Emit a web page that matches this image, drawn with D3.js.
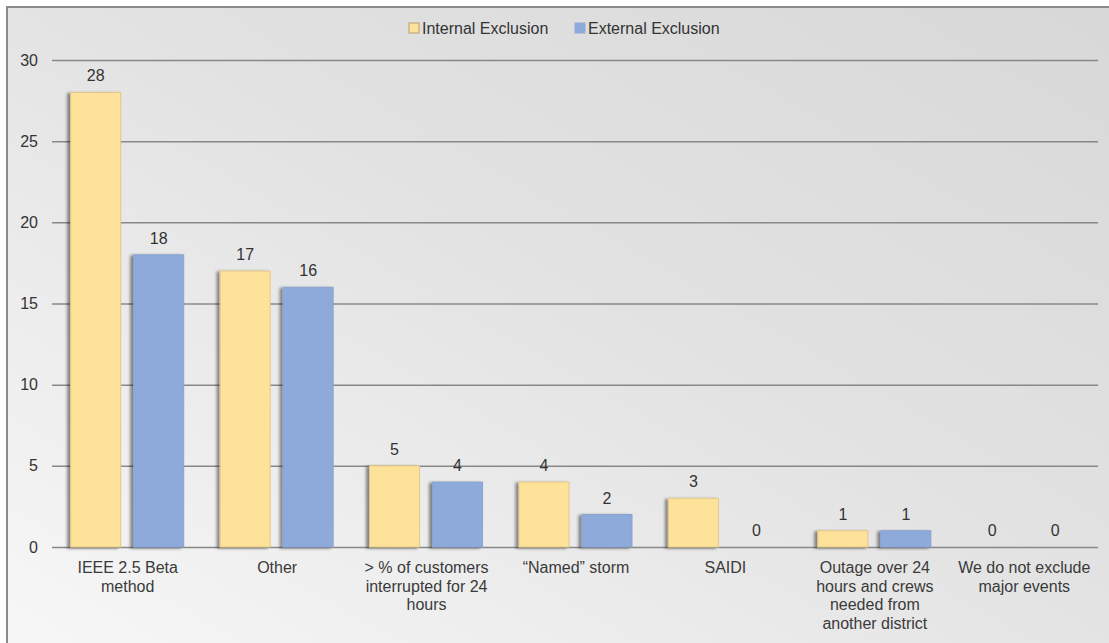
<!DOCTYPE html>
<html>
<head>
<meta charset="utf-8">
<script src="https://cdn.jsdelivr.net/npm/d3@7"></script>
<style>
  html, body { margin: 0; padding: 0; background: #ffffff; }
  svg { display: block; font-family: "Liberation Sans", Arial, sans-serif; }
</style>
</head>
<body>
<svg id="chart" width="1109" height="643"></svg>
<script>
// Major-event exclusion methods, internal vs external reporting
const categories = [
  ["IEEE 2.5 Beta", "method"],
  ["Other"],
  ["> % of customers", "interrupted for 24", "hours"],
  ["\u201cNamed\u201d storm"],
  ["SAIDI"],
  ["Outage over 24", "hours and crews", "needed from", "another district"],
  ["We do not exclude", "major events"]
];
const internalValues = [28, 17, 5, 4, 3, 1, 0];
const externalValues = [18, 16, 4, 2, 0, 1, 0];
const seriesNames = ["Internal Exclusion", "External Exclusion"];
const yTicks = [0, 5, 10, 15, 20, 25, 30];

const W = 1109, H = 643;
const FONT = 16;
const svg = d3.select("#chart");
const defs = svg.append("defs");

// panel background: light at bottom-left, darker grey at top-right
const bg = defs.append("linearGradient").attr("id", "bg")
  .attr("x1", "0").attr("y1", "1").attr("x2", "1").attr("y2", "0");
bg.append("stop").attr("offset", "0%").attr("stop-color", "#f7f7f7");
bg.append("stop").attr("offset", "55%").attr("stop-color", "#e2e2e2");
bg.append("stop").attr("offset", "100%").attr("stop-color", "#d8d8d8");

const shadow = defs.append("filter").attr("id", "shadow")
  .attr("x", "-30%").attr("y", "-10%").attr("width", "160%").attr("height", "130%");
shadow.append("feDropShadow").attr("dx", -3).attr("dy", 1).attr("stdDeviation", 1.6)
  .attr("flood-color", "#000").attr("flood-opacity", 0.45);

svg.append("rect").attr("x", 7).attr("y", 7).attr("width", W - 7).attr("height", H - 7)
  .attr("fill", "url(#bg)");
// frame edges (top and left)
svg.append("line").attr("x1", 6).attr("x2", W).attr("y1", 7).attr("y2", 7)
  .attr("stroke", "#8a8a8a").attr("stroke-width", 2);
svg.append("line").attr("x1", 7).attr("x2", 7).attr("y1", 6).attr("y2", H)
  .attr("stroke", "#8a8a8a").attr("stroke-width", 2);

const plot = { left: 52, right: 1098, top: 60, bottom: 547 };

const x = d3.scaleBand().domain(d3.range(categories.length))
  .range([plot.left, plot.right]).paddingInner(0).paddingOuter(0);
const y = d3.scaleLinear().domain([0, 30]).range([plot.bottom, plot.top]);

// gridlines and y labels
const yAxis = d3.axisLeft(y).tickValues(yTicks).tickSize(-(plot.right - plot.left)).tickPadding(14);
const yg = svg.append("g").attr("transform", `translate(${plot.left},0)`).call(yAxis);
yg.select(".domain").remove();
yg.selectAll(".tick line").attr("stroke", "#888888").attr("stroke-width", 1.5);
yg.selectAll(".tick text").attr("fill", "#333333").attr("font-size", FONT)
  .attr("font-family", "Liberation Sans, Arial, sans-serif");

const step = x.step();
const barW = 50;
const gap = 13;
const series = [
  { name: seriesNames[0], values: internalValues, fill: "#ffe29a", stroke: "#e2c88a" },
  { name: seriesNames[1], values: externalValues, fill: "#8eaadb", stroke: "#8aa3cf" }
];
function barX(i, s) {
  const c = x(i) + step / 2 + 0.5;
  return s === 0 ? c - gap / 2 - barW : c + gap / 2;
}

series.forEach((s, si) => {
  const g = svg.append("g");
  g.selectAll("rect").data(s.values).join("rect")
    .attr("x", (d, i) => barX(i, si))
    .attr("y", d => y(d))
    .attr("width", barW)
    .attr("height", d => y(0) - y(d))
    .attr("fill", s.fill)
    .attr("stroke", s.stroke)
    .attr("stroke-width", 1)
    .attr("filter", d => d > 0 ? "url(#shadow)" : null)
    .attr("display", d => d > 0 ? null : "none");
  g.selectAll("text").data(s.values).join("text")
    .attr("x", (d, i) => barX(i, si) + barW / 2)
    .attr("y", d => y(d) - 11)
    .attr("text-anchor", "middle")
    .attr("font-size", FONT)
    .attr("fill", "#333333")
    .text(d => d);
});

// category labels
const xg = svg.append("g");
categories.forEach((lines, i) => {
  const cx = x(i) + step / 2 + 1;
  const t = xg.append("text")
    .attr("x", cx)
    .attr("y", plot.bottom + 26)
    .attr("text-anchor", "middle")
    .attr("font-size", FONT)
    .attr("fill", "#3a3a3a");
  lines.forEach((ln, k) => {
    t.append("tspan").attr("x", cx).attr("dy", k === 0 ? 0 : 18.7).text(ln);
  });
});

// legend
const legend = svg.append("g");
const legendItems = [
  { x: 409, fill: series[0].fill, stroke: "#b8a070", label: seriesNames[0] },
  { x: 575, fill: series[1].fill, stroke: "#8eaadb", label: seriesNames[1] }
];
legendItems.forEach(it => {
  legend.append("rect").attr("x", it.x).attr("y", 23).attr("width", 10).attr("height", 10)
    .attr("fill", it.fill).attr("stroke", it.stroke).attr("stroke-width", 1);
  legend.append("text").attr("x", it.x + 13).attr("y", 34)
    .attr("font-size", FONT).attr("fill", "#333333").text(it.label);
});
</script>
</body>
</html>
